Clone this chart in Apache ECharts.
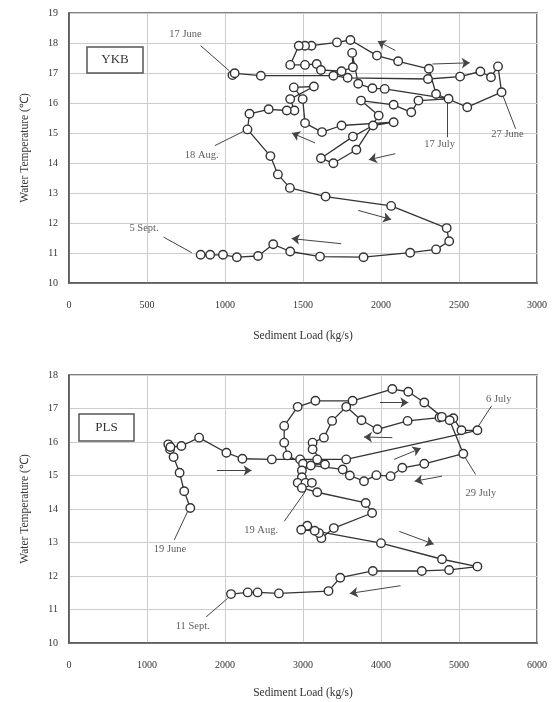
<!DOCTYPE html>
<html>
<head>
<meta charset="utf-8">
<script src="https://cdn.jsdelivr.net/npm/echarts@6/dist/echarts.min.js"></script>
<style>
  html, body { margin: 0; padding: 0; background: #fff; }
  #chart { width: 557px; height: 702px; }
</style>
</head>
<body>
<div id="chart"></div>
<script>
// YKB station: daily sediment load (kg/s) and water temperature, 17 June -> 5 Sept
const ykbLoad = [1048, 1062, 1230, 1695, 1786, 2301, 2507, 2637, 2705, 2750, 2773,
  2553, 2353, 2307, 2110, 1974, 1804, 1718, 1554, 1513, 1473, 1418, 1513, 1588, 1615,
  1747, 1820, 1815, 1854, 1945, 2024, 2433, 2240, 2194, 2081, 1872, 1985, 1842, 1695,
  1615, 1820, 1949, 2081, 1747, 1622, 1513, 1498, 1441, 1570, 1418, 1445, 1396, 1280,
  1157, 1144, 1291, 1339, 1416, 1645, 2065, 2421, 2437, 2353, 2187, 1888, 1609, 1418,
  1309, 1212, 1076, 987, 905, 844];
const ykbTemp = [16.93, 16.99, 16.91, 16.91, 16.84, 16.80, 16.88, 17.05, 16.86, 17.22, 16.36,
  15.86, 16.30, 17.14, 17.39, 17.58, 18.10, 18.02, 17.91, 17.91, 17.91, 17.27, 17.27, 17.30, 17.10,
  17.06, 17.19, 17.67, 16.64, 16.49, 16.47, 16.14, 16.08, 15.69, 15.94, 16.08, 15.58, 14.44, 13.99,
  14.16, 14.88, 15.25, 15.36, 15.25, 15.03, 15.33, 16.13, 16.52, 16.55, 16.13, 15.75, 15.75, 15.79,
  15.64, 15.12, 14.23, 13.62, 13.17, 12.88, 12.57, 11.83, 11.39, 11.12, 11.01, 10.86, 10.88, 11.05,
  11.29, 10.90, 10.86, 10.94, 10.94, 10.94];

// PLS station: 19 June -> 11 Sept
const plsLoad = [1555, 1477, 1418, 1341, 1295, 1273, 1300, 1441, 1668, 2018, 2223, 2600, 2963,
  3182, 3554, 5236, 5032, 4927, 4750, 4341, 3954, 3750, 3554, 3373, 3268, 3123, 3123, 3282,
  3000, 2800, 2759, 2759, 2932, 3159, 3636, 4145, 4350, 4555, 4780, 4880, 5055, 4555, 4273,
  4123, 3941, 3782, 3600, 3509, 3100, 2986, 2986, 2932, 3032, 3114, 2986, 3182, 3804, 3886,
  3395, 3236, 3205, 3055, 2977, 3150, 4000, 4782, 5236, 4873, 4523, 3895, 3477, 3327, 2691,
  2418, 2291, 2077];
const plsTemp = [14.03, 14.53, 15.08, 15.55, 15.78, 15.93, 15.85, 15.88, 16.13, 15.68, 15.50, 15.48, 15.48,
  15.48, 15.48, 16.35, 16.35, 16.71, 16.73, 16.63, 16.38, 16.65, 17.05, 16.63, 16.13, 15.98, 15.78, 15.33,
  15.35, 15.60, 15.98, 16.48, 17.05, 17.23, 17.23, 17.58, 17.50, 17.18, 16.75, 16.65, 15.65, 15.35, 15.23,
  14.98, 15.01, 14.83, 15.00, 15.18, 15.30, 15.15, 14.95, 14.78, 14.78, 14.78, 14.63, 14.50, 14.18, 13.88,
  13.43, 13.13, 13.28, 13.50, 13.38, 13.35, 12.98, 12.50, 12.28, 12.18, 12.15, 12.15, 11.95, 11.55, 11.48,
  11.51, 11.51, 11.46];

// date annotations: [label, textX, textY, leaderFromX, leaderFromY, leaderToX, leaderToY]
const ykbNotes = [
  ["17 June", 747, 18.30, 844, 17.91, 1026, 17.08],
  ["27 June", 2811, 14.97, 2863, 15.14, 2773, 16.36],
  ["17 July", 2376, 14.62, 2426, 14.86, 2426, 16.14],
  ["18 Aug.", 851, 14.25, 935, 14.58, 1128, 15.08],
  ["5 Sept.", 481, 11.81, 606, 11.53, 787, 11.01]
];
const plsNotes = [
  ["6 July", 5509, 17.28, 5418, 17.08, 5236, 16.43],
  ["29 July", 5281, 14.46, 5213, 15.03, 5054, 15.63],
  ["19 Aug.", 2463, 13.36, 2759, 13.63, 3032, 14.53],
  ["19 June", 1295, 12.81, 1350, 13.08, 1532, 13.98],
  ["11 Sept.", 1586, 10.51, 1759, 10.78, 2032, 11.33]
];

// direction arrows: [tailX, tailY, headX, headY]
const ykbArrows = [
  [2330, 17.30, 2569, 17.34],
  [2092, 17.75, 1979, 18.06],
  [1577, 14.67, 1429, 15.00],
  [2092, 14.31, 1922, 14.11],
  [1854, 12.42, 2065, 12.12],
  [1745, 11.31, 1427, 11.48]
];
const plsArrows = [
  [3986, 17.18, 4350, 17.18],
  [4145, 16.13, 3782, 16.15],
  [4168, 15.48, 4509, 15.81],
  [4782, 14.98, 4432, 14.83],
  [1895, 15.15, 2341, 15.15],
  [4236, 13.33, 4677, 12.95],
  [4250, 11.71, 3600, 11.48]
];

const FONT = "Liberation Serif";
const INK = "#333";

function zip(xs, ys) { return xs.map((x, i) => [x, ys[i]]); }

function axisPair(gi, xmax, xstep, ymin, ymax) {
  const x = {
    gridIndex: gi, type: "value", min: 0, max: xmax, interval: xstep,
    name: "Sediment Load (kg/s)", nameLocation: "middle", nameGap: gi === 0 ? 47 : 44,
    nameTextStyle: { fontFamily: FONT, fontSize: 11.5, color: INK },
    axisLine: { show: true, onZero: false, lineStyle: { color: "#555", width: 1.6 } },
    axisTick: { show: false },
    axisLabel: { fontFamily: FONT, fontSize: 10, color: INK, margin: 17, formatter: v => String(v) },
    splitLine: { show: true, lineStyle: { color: "#ccc", width: 1 } }
  };
  const y = {
    gridIndex: gi, type: "value", min: ymin, max: ymax, interval: 1,
    name: "Water Temperature (\u2103)", nameLocation: "middle", nameGap: 38,
    nameTextStyle: { fontFamily: FONT, fontSize: 11.5, color: INK },
    axisLine: { show: true, onZero: false, lineStyle: { color: "#555", width: 1.6 } },
    axisTick: { show: false },
    axisLabel: { fontFamily: FONT, fontSize: 10, color: INK, margin: 11 },
    splitLine: { show: true, lineStyle: { color: "#ccc", width: 1 } }
  };
  return [x, y];
}

const [x0, y0] = axisPair(0, 3000, 500, 10, 19);
const [x1, y1] = axisPair(1, 6000, 1000, 10, 18);

function pathSeries(name, gi, data) {
  return {
    name, type: "line", xAxisIndex: gi, yAxisIndex: gi, data,
    symbol: "circle", symbolSize: 8.5, showSymbol: true,
    lineStyle: { color: INK, width: 1.3 },
    itemStyle: { color: "#fff", borderColor: INK, borderWidth: 1.4 },
    z: 5, animation: false
  };
}

function noteSeries(gi, notes) {
  return [
    {
      type: "lines", coordinateSystem: "cartesian2d", xAxisIndex: gi, yAxisIndex: gi,
      data: notes.map(n => ({ coords: [[n[3], n[4]], [n[5], n[6]]] })),
      symbol: "none", lineStyle: { color: "#444", width: 1, opacity: 1 },
      z: 4, animation: false
    },
    {
      type: "scatter", xAxisIndex: gi, yAxisIndex: gi,
      data: notes.map(n => ({ value: [n[1], n[2]], name: n[0] })),
      symbolSize: 1, itemStyle: { color: "rgba(0,0,0,0)" },
      label: { show: true, position: "inside", formatter: "{b}", fontFamily: FONT, fontSize: 10.5, color: INK },
      z: 6, animation: false
    }
  ];
}

function arrowSeries(gi, arrows) {
  return {
    type: "lines", coordinateSystem: "cartesian2d", xAxisIndex: gi, yAxisIndex: gi,
    data: arrows.map(a => ({ coords: [[a[0], a[1]], [a[2], a[3]]] })),
    symbol: ["none", "arrow"], symbolSize: [0, 8],
    lineStyle: { color: "#444", width: 1, opacity: 1 },
    itemStyle: { color: "#222" },
    z: 4, animation: false
  };
}

const chart = echarts.init(document.getElementById("chart"));
chart.setOption({
  backgroundColor: "#fff",
  animation: false,
  grid: [
    { left: 69, top: 13, width: 468, height: 270, show: true, borderColor: "#555", borderWidth: 1.6 },
    { left: 69, top: 375, width: 468, height: 268, show: true, borderColor: "#555", borderWidth: 1.6 }
  ],
  xAxis: [x0, x1],
  yAxis: [y0, y1],
  graphic: [
    { type: "rect", shape: { x: 87, y: 47, width: 56, height: 26 },
      style: { fill: "#fff", stroke: "#555", lineWidth: 1.5 }, z: 10 },
    { type: "text", x: 115, y: 60, style: { text: "YKB", fontFamily: FONT, fontSize: 13, fill: INK, align: "center", verticalAlign: "middle" }, z: 11 },
    { type: "rect", shape: { x: 79, y: 414, width: 55, height: 27 },
      style: { fill: "#fff", stroke: "#555", lineWidth: 1.5 }, z: 10 },
    { type: "text", x: 106.5, y: 427.5, style: { text: "PLS", fontFamily: FONT, fontSize: 13, fill: INK, align: "center", verticalAlign: "middle" }, z: 11 }
  ],
  series: [
    pathSeries("YKB", 0, zip(ykbLoad, ykbTemp)),
    pathSeries("PLS", 1, zip(plsLoad, plsTemp)),
    ...noteSeries(0, ykbNotes),
    ...noteSeries(1, plsNotes),
    arrowSeries(0, ykbArrows),
    arrowSeries(1, plsArrows)
  ]
});
</script>
</body>
</html>
